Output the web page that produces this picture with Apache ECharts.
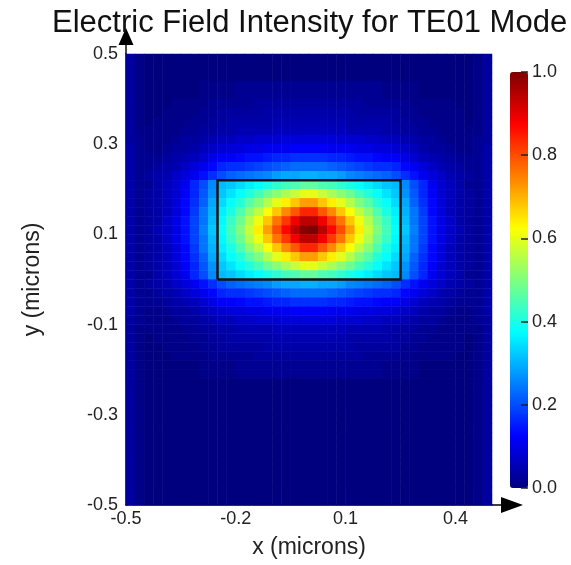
<!DOCTYPE html>
<html>
<head>
<meta charset="utf-8">
<script src="https://cdn.jsdelivr.net/npm/echarts@6/dist/echarts.min.js"></script>
<style>html,body{margin:0;padding:0;background:#fff}#c{width:571px;height:565px}</style>
</head>
<body>
<div id="c"></div>
<script>
// cell centres (microns)
const xCells = [-0.4875,-0.4625,-0.4375,-0.4125,-0.3875,-0.3625,-0.3375,-0.3125,-0.2875,-0.2625,-0.2375,-0.2125,-0.1875,-0.1625,-0.1375,-0.1125,-0.0875,-0.0625,-0.0375,-0.0125,0.0125,0.0375,0.0625,0.0875,0.1125,0.1375,0.1625,0.1875,0.2125,0.2375,0.2625,0.2875,0.3125,0.3375,0.3625,0.3875,0.4125,0.4375,0.4625,0.4875];
const yCells = [-0.49,-0.47,-0.45,-0.43,-0.41,-0.39,-0.37,-0.35,-0.33,-0.31,-0.29,-0.27,-0.25,-0.23,-0.21,-0.19,-0.17,-0.15,-0.13,-0.11,-0.09,-0.07,-0.05,-0.03,-0.01,0.01,0.03,0.05,0.07,0.09,0.11,0.13,0.15,0.17,0.19,0.21,0.23,0.25,0.27,0.29,0.31,0.33,0.35,0.37,0.39,0.41,0.43,0.45,0.47,0.49];

const xTickValues = [-0.5, -0.2, 0.1, 0.4];
const yTickValues = [-0.5, -0.3, -0.1, 0.1, 0.3, 0.5];
const colorbarTicks = [0, 0.2, 0.4, 0.6, 0.8, 1.0];

// waveguide core outline (microns)
const coreX = [-0.25, 0.25];
const coreY = [0, 0.22];

// intensity rows (left to right across x)
const rowBg  = [0.03,0.01,0.00,0.00,0.00,0.00,0.00,0.00,0.00,0.00,0.00,0.00,0.00,0.00,0.00,0.00,0.00,0.00,0.00,0.00, 0.00,0.00,0.00,0.00,0.00,0.00,0.00,0.00,0.00,0.00,0.00,0.00,0.00,0.00,0.00,0.00,0.00,0.00,0.01,0.03];
const rowA15 = [0.03,0.01,0.00,0.00,0.00,0.00,0.00,0.00,0.01,0.01,0.01,0.01,0.02,0.02,0.02,0.02,0.02,0.02,0.02,0.02, 0.02,0.02,0.02,0.02,0.02,0.02,0.02,0.02,0.01,0.01,0.01,0.01,0.00,0.00,0.00,0.00,0.00,0.00,0.01,0.03];
const rowA14 = [0.03,0.01,0.00,0.00,0.00,0.01,0.01,0.01,0.01,0.02,0.02,0.02,0.02,0.02,0.03,0.03,0.03,0.03,0.03,0.03, 0.03,0.03,0.03,0.03,0.03,0.03,0.02,0.02,0.02,0.02,0.02,0.01,0.01,0.01,0.01,0.01,0.00,0.00,0.01,0.03];
const rowA13 = [0.03,0.01,0.00,0.00,0.01,0.01,0.01,0.01,0.02,0.02,0.03,0.03,0.03,0.03,0.03,0.04,0.04,0.04,0.04,0.04, 0.04,0.04,0.04,0.04,0.04,0.03,0.03,0.03,0.03,0.03,0.02,0.02,0.01,0.01,0.01,0.01,0.01,0.00,0.01,0.03];
const rowA12 = [0.03,0.01,0.00,0.01,0.01,0.01,0.01,0.02,0.02,0.03,0.03,0.04,0.04,0.04,0.04,0.04,0.05,0.05,0.05,0.05, 0.05,0.05,0.05,0.05,0.04,0.04,0.04,0.04,0.04,0.03,0.03,0.02,0.02,0.01,0.01,0.01,0.01,0.00,0.01,0.03];
const rowA11 = [0.03,0.01,0.01,0.01,0.01,0.01,0.02,0.02,0.03,0.03,0.04,0.04,0.05,0.05,0.05,0.05,0.06,0.06,0.06,0.06, 0.06,0.06,0.06,0.06,0.05,0.05,0.05,0.05,0.04,0.04,0.03,0.03,0.02,0.02,0.01,0.01,0.01,0.01,0.01,0.03];
const rowA10 = [0.03,0.02,0.01,0.01,0.01,0.02,0.03,0.03,0.04,0.05,0.06,0.06,0.07,0.07,0.08,0.08,0.08,0.09,0.09,0.09, 0.09,0.09,0.09,0.08,0.08,0.08,0.07,0.07,0.06,0.06,0.05,0.04,0.03,0.03,0.02,0.01,0.01,0.01,0.02,0.03];
const rowA9  = [0.04,0.02,0.01,0.01,0.02,0.03,0.03,0.04,0.06,0.07,0.08,0.09,0.09,0.10,0.10,0.11,0.11,0.11,0.12,0.12, 0.12,0.12,0.11,0.11,0.11,0.10,0.10,0.09,0.09,0.08,0.07,0.06,0.04,0.03,0.03,0.02,0.01,0.01,0.02,0.04];
const rowA8  = [0.04,0.02,0.02,0.02,0.03,0.04,0.05,0.06,0.08,0.10,0.12,0.12,0.13,0.14,0.14,0.15,0.16,0.16,0.17,0.17, 0.17,0.17,0.16,0.16,0.15,0.14,0.14,0.13,0.12,0.12,0.10,0.08,0.06,0.05,0.04,0.03,0.02,0.02,0.02,0.04];
const rowA7  = [0.04,0.02,0.02,0.03,0.04,0.05,0.07,0.09,0.11,0.13,0.16,0.17,0.17,0.18,0.19,0.20,0.21,0.22,0.23,0.23, 0.23,0.23,0.22,0.21,0.20,0.19,0.18,0.17,0.17,0.16,0.13,0.11,0.09,0.07,0.05,0.04,0.03,0.02,0.02,0.04];
const rowA6  = [0.04,0.02,0.03,0.04,0.05,0.07,0.09,0.11,0.14,0.17,0.20,0.22,0.23,0.24,0.25,0.26,0.28,0.29,0.29,0.30, 0.30,0.29,0.29,0.28,0.26,0.25,0.24,0.23,0.22,0.20,0.17,0.14,0.11,0.09,0.07,0.05,0.04,0.03,0.02,0.04];
const rowA5  = [0.04,0.02,0.02,0.04,0.06,0.08,0.11,0.16,0.20,0.26,0.31,0.32,0.34,0.36,0.38,0.40,0.42,0.44,0.45,0.47, 0.47,0.45,0.44,0.42,0.40,0.38,0.36,0.34,0.32,0.31,0.26,0.20,0.16,0.11,0.08,0.06,0.04,0.02,0.02,0.04];
const rowA4  = [0.04,0.02,0.03,0.04,0.06,0.08,0.12,0.16,0.21,0.27,0.32,0.35,0.38,0.41,0.44,0.48,0.51,0.54,0.57,0.60, 0.60,0.57,0.54,0.51,0.48,0.44,0.41,0.38,0.35,0.32,0.27,0.21,0.16,0.12,0.08,0.06,0.04,0.03,0.02,0.04];
const rowA3  = [0.04,0.02,0.03,0.04,0.06,0.09,0.13,0.17,0.22,0.29,0.34,0.38,0.41,0.46,0.50,0.55,0.60,0.64,0.68,0.72, 0.72,0.68,0.64,0.60,0.55,0.50,0.46,0.41,0.38,0.34,0.29,0.22,0.17,0.13,0.09,0.06,0.04,0.03,0.02,0.04];
const rowA2  = [0.04,0.02,0.03,0.04,0.06,0.09,0.13,0.18,0.24,0.30,0.36,0.40,0.45,0.51,0.56,0.62,0.68,0.74,0.79,0.84, 0.84,0.79,0.74,0.68,0.62,0.56,0.51,0.45,0.40,0.36,0.30,0.24,0.18,0.13,0.09,0.06,0.04,0.03,0.02,0.04];
const rowA1  = [0.04,0.02,0.03,0.04,0.07,0.10,0.14,0.19,0.24,0.31,0.37,0.43,0.48,0.55,0.61,0.68,0.76,0.82,0.89,0.94, 0.94,0.89,0.82,0.76,0.68,0.61,0.55,0.48,0.43,0.37,0.31,0.24,0.19,0.14,0.10,0.07,0.04,0.03,0.02,0.04];
const rowA0  = [0.04,0.02,0.03,0.05,0.07,0.10,0.14,0.19,0.25,0.32,0.38,0.44,0.50,0.57,0.64,0.72,0.80,0.87,0.94,0.99, 1.00,0.94,0.87,0.80,0.72,0.64,0.57,0.50,0.44,0.38,0.32,0.25,0.19,0.14,0.10,0.07,0.05,0.03,0.02,0.04];

// rows from top (y = 0.49) to bottom (y = -0.49)
const fieldRows = [
  rowBg, rowBg, rowBg, rowA15, rowA15, rowA14, rowA13, rowA12, rowA11, rowA10,
  rowA9, rowA8, rowA7, rowA6, rowA5, rowA4, rowA3, rowA2, rowA1, rowA0,
  rowA1, rowA2, rowA3, rowA4, rowA5, rowA6, rowA7, rowA8, rowA9, rowA10,
  rowA11, rowA12, rowA13, rowA14, rowA15, rowA15, rowBg, rowBg, rowBg, rowBg,
  rowBg, rowBg, rowBg, rowBg, rowBg, rowBg, rowBg, rowBg, rowBg, rowBg
];

const jet = ['#00007f','#0000ff','#007fff','#00ffff','#7fff7f','#ffff00','#ff7f00','#ff0000','#7f0000'];

const heatData = [];
fieldRows.forEach(function (row, r) {
  row.forEach(function (v, c) {
    heatData.push([c, yCells.length - 1 - r, v]);
  });
});

const corePath = [
  [coreX[0], coreY[0]], [coreX[1], coreY[0]], [coreX[1], coreY[1]],
  [coreX[0], coreY[1]], [coreX[0], coreY[0]]
];

function near(list, v) {
  return list.some(function (t) { return Math.abs(t - v) < 1e-6; });
}

const FONT = 'Liberation Sans, Arial, sans-serif';
const plot = { left: 126, top: 54, width: 366, height: 451 };

const chart = echarts.init(document.getElementById('c'), null, { renderer: 'canvas' });
chart.setOption({
  animation: false,
  backgroundColor: '#ffffff',
  textStyle: { fontFamily: FONT },
  title: {
    text: 'Electric Field Intensity for TE01 Mode',
    left: 47, top: 3,
    textStyle: { fontSize: 31, fontWeight: 'normal', color: '#111', fontFamily: FONT }
  },
  grid: [
    Object.assign({}, plot),
    Object.assign({}, plot),
    { left: 510, top: 72, width: 18, height: 416 }
  ],
  xAxis: [
    { type: 'category', gridIndex: 0, data: xCells, show: false },
    {
      type: 'value', gridIndex: 1, min: -0.5, max: 0.5, interval: 0.3,
      position: 'bottom',
      name: 'x (microns)', nameLocation: 'middle', nameGap: 31,
      nameTextStyle: { fontSize: 23, color: '#222', fontFamily: FONT },
      axisLine: {
        show: true, onZero: false, lineStyle: { color: '#000', width: 1.5 },
        symbol: ['none', 'path://M8,0L16,22L8.8,22L8.8,31L7.2,31L7.2,22L0,22Z'],
        symbolSize: [16, 31], symbolOffset: [0, 15.5]
      },
      axisTick: { show: false },
      splitLine: { show: false },
      axisLabel: {
        margin: 5, fontSize: 18, color: '#222', fontFamily: FONT,
        showMaxLabel: false,
        formatter: function (v) { return near(xTickValues, v) ? v.toFixed(1) : ''; }
      }
    },
    { type: 'value', gridIndex: 2, min: 0, max: 1, show: false }
  ],
  yAxis: [
    { type: 'category', gridIndex: 0, data: yCells, show: false },
    {
      type: 'value', gridIndex: 1, min: -0.5, max: 0.5, interval: 0.2,
      position: 'left',
      name: 'y (microns)', nameLocation: 'middle', nameGap: 82, nameRotate: 90,
      nameTextStyle: { fontSize: 23, color: '#222', fontFamily: FONT },
      axisLine: {
        show: true, onZero: false, lineStyle: { color: '#000', width: 1.5 },
        symbol: ['none', 'path://M7.5,0L15,17L8.2,17L8.2,26L6.8,26L6.8,17L0,17Z'],
        symbolSize: [15, 26], symbolOffset: [0, 13]
      },
      axisTick: { show: false },
      splitLine: { show: false },
      axisLabel: {
        margin: 8, fontSize: 18, color: '#222', fontFamily: FONT,
        formatter: function (v) { return near(yTickValues, v) ? v.toFixed(1) : ''; }
      }
    },
    {
      type: 'value', gridIndex: 2, min: 0, max: 1, interval: 0.2,
      position: 'right', z: 10,
      axisLine: { show: false, onZero: false },
      axisTick: { show: true, inside: true, length: 7, lineStyle: { color: '#222', width: 1.5 } },
      splitLine: { show: false },
      axisLabel: {
        margin: 4, fontSize: 18, color: '#222', fontFamily: FONT,
        formatter: function (v) { return near(colorbarTicks, v) ? v.toFixed(1) : ''; }
      }
    }
  ],
  visualMap: {
    type: 'continuous', min: 0, max: 1, seriesIndex: 0,
    orient: 'vertical', left: 510, top: 72, itemWidth: 18, itemHeight: 416,
    padding: 0, calculable: false, hoverLink: false, z: 2,
    inRange: { color: jet }
  },
  series: [
    {
      type: 'heatmap', xAxisIndex: 0, yAxisIndex: 0, data: heatData,
      progressive: 0, itemStyle: { borderWidth: 0 }, emphasis: { disabled: true }
    },
    {
      type: 'line', xAxisIndex: 1, yAxisIndex: 1, data: corePath,
      symbol: 'none', z: 5,
      lineStyle: { color: '#111', width: 2.5, join: 'miter' }
    },
    {
      type: 'line', xAxisIndex: 2, yAxisIndex: 2, data: [], symbol: 'none'
    }
  ]
});
</script>
</body>
</html>
